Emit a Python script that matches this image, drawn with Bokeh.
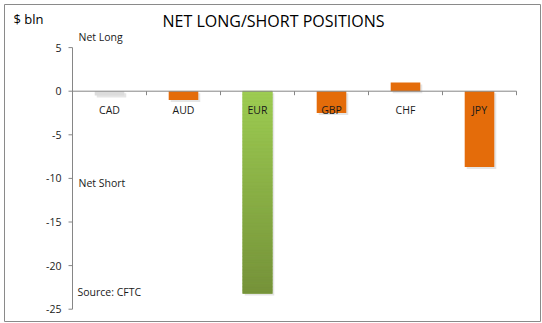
from bokeh.plotting import figure
from bokeh.models import Range1d, ColumnDataSource
from bokeh.core.properties import value
from bokeh.embed import file_html
from bokeh.resources import INLINE
import numpy as np

# ---- data ----
categories = ["CAD", "AUD", "EUR", "GBP", "CHF", "JPY"]
positions = [-0.5, -1.0, -23.2, -2.5, 1.0, -8.7]
bar_colors = ["#DCDCDC", "#E46C0A", "#8DB844", "#E46C0A", "#E46C0A", "#E46C0A"]
gradient_category = "EUR"
y_ticks = [-25, -20, -15, -10, -5, 0, 5]
y_tick_labels = ["-25", "-20", "-15", "-10", "-5", "0", "5"]

# ---- layout constants (pixels) ----
W, H = 542, 323
LEFT = 72          # pixel column of the value axis
PX_X = 74.0        # pixels per category
PX_Y = 8.72        # pixels per $ bln
ZERO_Y = 90.7      # pixel row of zero
FONT = "Open Sans"
AXIS_COLOR = "#868686"


def px_to_x(px):
    return (px - LEFT) / PX_X


def px_to_y(py):
    return (ZERO_Y - py) / PX_Y


x_range = Range1d(px_to_x(0), px_to_x(W))
y_range = Range1d(px_to_y(H), px_to_y(0))

p = figure(width=W, height=H, x_range=x_range, y_range=y_range,
           output_backend="svg", toolbar_location=None,
           min_border_left=0, min_border_right=0, min_border_top=0, min_border_bottom=0,
           x_axis_type=None, y_axis_type=None, outline_line_color=None,
           background_fill_color="white", border_fill_color="white")
p.grid.visible = False

# chart border
p.quad(left=[px_to_x(4)], right=[px_to_x(540)], top=[px_to_y(4)], bottom=[px_to_y(321)],
       fill_color=None, line_color="#8a8a8a", line_width=1)

centers = [i + 0.5 for i in range(len(categories))]
src = ColumnDataSource(dict(
    x=centers, top=[max(v, 0) for v in positions], bottom=[min(v, 0) for v in positions],
    sx=[c + 2.0 / PX_X for c in centers],
    stop=[max(v, 0) - 2.0 / PX_Y for v in positions],
    sbottom=[min(v, 0) - 2.0 / PX_Y for v in positions],
    color=bar_colors, cat=categories))

# soft shadow
p.vbar(x="sx", top="stop", bottom="sbottom", width=0.4, source=src,
       fill_color="#000000", fill_alpha=0.10, line_color=None)
# bars
p.vbar(x="x", top="top", bottom="bottom", width=0.4, source=src,
       fill_color="color", line_color=None)

# gradient for the green bar
gi = categories.index(gradient_category)
gv = positions[gi]
n = 60
edges = np.linspace(0, gv, n + 1)
c_top = np.array([0x9D, 0xCC, 0x52])
c_bot = np.array([0x76, 0x93, 0x3A])
cols = []
for k in range(n):
    t = k / (n - 1)
    c = (c_top * (1 - t) + c_bot * t).astype(int)
    cols.append("#%02x%02x%02x" % tuple(c))
p.quad(left=[centers[gi] - 0.2] * n, right=[centers[gi] + 0.2] * n,
       top=list(edges[:-1]), bottom=list(edges[1:]), fill_color=cols, line_color=cols, line_width=0.5)

# value axis: line, ticks, labels
p.segment(x0=[0], y0=[min(y_ticks)], x1=[0], y1=[max(y_ticks)], line_color=AXIS_COLOR, line_width=1)
p.segment(x0=[-4 / PX_X] * len(y_ticks), y0=y_ticks, x1=[0] * len(y_ticks), y1=y_ticks,
          line_color=AXIS_COLOR, line_width=1)
p.text(x=[0] * len(y_ticks), y=y_ticks, text=y_tick_labels, x_offset=-11, text_align="right",
       text_baseline="middle", text_font=value(FONT), text_font_size="10.5px", text_color="#1a1a1a")

# zero line with category boundary ticks
p.segment(x0=[0], y0=[0], x1=[len(categories)], y1=[0], line_color=AXIS_COLOR, line_width=1)
bounds = list(range(1, len(categories) + 1))
p.segment(x0=bounds, y0=[0] * len(bounds), x1=bounds, y1=[-4 / PX_Y] * len(bounds),
          line_color=AXIS_COLOR, line_width=1)

# category labels
p.text(x="x", y=0, text="cat", source=src, y_offset=18.5, text_align="center",
       text_baseline="middle", text_font=value(FONT), text_font_size="10.5px", text_color="#1a1a1a")

# titles and notes
notes = [
    (273, 20, "NET LONG/SHORT POSITIONS", "center", "16px", "#000000"),
    (13, 18, "$ bln", "left", "13px", "#000000"),
    (78, 36, "Net Long", "left", "10.5px", "#1a1a1a"),
    (78, 182, "Net Short", "left", "10.5px", "#1a1a1a"),
    (77, 291, "Source: CFTC", "left", "10.5px", "#1a1a1a"),
]
for px, py, txt, align, size, color in notes:
    p.text(x=[px_to_x(px)], y=[px_to_y(py)], text=[txt], text_align=align, text_baseline="middle",
           text_font=value(FONT), text_font_size=size, text_color=color)

open("out.html", "w").write(file_html(p, INLINE))
